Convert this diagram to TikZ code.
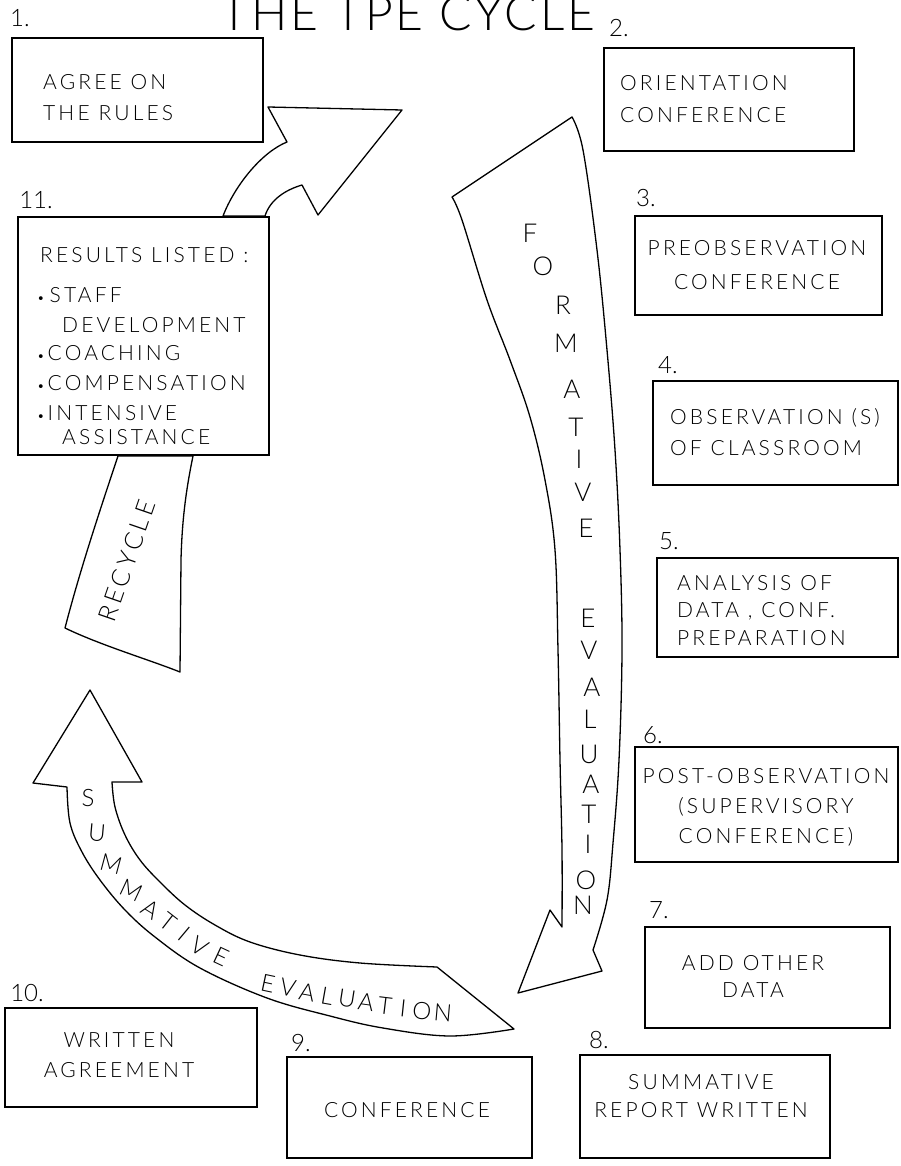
\documentclass[tikz,border=0pt]{standalone}
\usepackage{fontspec}
\setmainfont{Lato Light}
\newfontfamily\hand{Lato Light}[LetterSpace=15]
\newfontfamily\handn{Lato Light}
\newfontfamily\handt{Lato Light}[LetterSpace=6]
\begin{document}
\begin{tikzpicture}[x=1pt,y=-1pt,
  box/.style={draw, line width=2pt, inner sep=0pt},
  txt/.style={font=\hand\fontsize{21}{30}\selectfont, inner sep=0pt},
  num/.style={font=\handn\fontsize{24}{24}\selectfont, inner sep=0pt},
  bigl/.style={font=\handn\fontsize{26}{26}\selectfont, inner sep=0pt},
  suml/.style={font=\handn\fontsize{24}{24}\selectfont, inner sep=0pt},
  arr/.style={draw, line width=1.3pt, fill=white, line join=round}]
\fill[white] (0,0) rectangle (901,1166);
\useasboundingbox (0,0) rectangle (901,1166);

% title
\node[font=\handt\fontsize{48}{48}\selectfont, anchor=base, inner sep=0pt] (title) at (408,31) {THE TPE CYCLE};

% boxes
\node[box, minimum width=251pt, minimum height=104pt] (b1) at (137.5,90) {};
\node[box, minimum width=250pt, minimum height=103pt] (b2) at (729,99.5) {};
\node[box, minimum width=247pt, minimum height=99pt] (b3) at (758.5,265.5) {};
\node[box, minimum width=245pt, minimum height=104pt] (b4) at (775.5,433) {};
\node[box, minimum width=241pt, minimum height=99pt] (b5) at (777.5,607.5) {};
\node[box, minimum width=263pt, minimum height=115pt] (b6) at (766.5,804.5) {};
\node[box, minimum width=245pt, minimum height=101pt] (b7) at (767.5,977.5) {};
\node[box, minimum width=250pt, minimum height=103pt] (b8) at (705,1106.5) {};
\node[box, minimum width=245pt, minimum height=101pt] (b9) at (409.5,1107.5) {};
\node[box, minimum width=252pt, minimum height=99pt] (b10) at (131,1057.5) {};
\node[box, minimum width=251pt, minimum height=238pt] (b11) at (143.5,336) {};

% numbers
\node[num] (n1) at (20,18) {1.};
\node[num] (n2) at (619,28) {2.};
\node[num] (n3) at (646,198) {3.};
\node[num] (n4) at (668,365) {4.};
\node[num] (n5) at (669,541) {5.};
\node[num] (n6) at (653,735) {6.};
\node[num] (n7) at (659,910) {7.};
\node[num] (n8) at (599,1040) {8.};
\node[num] (n9) at (301,1043) {9.};
\node[num] (n10) at (27,993) {10.};
\node[num] (n11) at (36,200) {11.};

% box texts
\node[txt, align=left, anchor=west, font=\hand\fontsize{21}{31}\selectfont] (t1) at (43,97.5) {AGREE ON\\THE RULES};
\node[txt, align=left, anchor=west, font=\hand\fontsize{21}{32}\selectfont] (t2) at (620,99) {ORIENTATION\\CONFERENCE};
\node[txt, align=center, font=\hand\fontsize{21}{34}\selectfont] (t3) at (757,265) {PREOBSERVATION\\CONFERENCE};
\node[txt, align=left, anchor=west, font=\hand\fontsize{21}{31}\selectfont] (t4) at (670,432.5) {OBSERVATION (S)\\OF CLASSROOM};
\node[txt, align=left, anchor=west, font=\hand\fontsize{21}{27.5}\selectfont] (t5) at (677,610.5) {ANALYSIS OF\\DATA , CONF.\\PREPARATION};
\node[txt, align=center, font=\hand\fontsize{21}{30}\selectfont] (t6) at (766,807.5) {POST-OBSERVATION\\(SUPERVISORY\\CONFERENCE)};
\node[txt, align=center, font=\hand\fontsize{21}{27}\selectfont] (t7) at (753,976.5) {ADD OTHER\\DATA};
\node[txt, align=center, font=\hand\fontsize{21}{28}\selectfont] (t8) at (701,1096) {SUMMATIVE\\REPORT WRITTEN};
\node[txt] (t9) at (407,1110) {CONFERENCE};
\node[txt, align=center, font=\hand\fontsize{21}{30}\selectfont] (t10) at (119,1055) {WRITTEN\\AGREEMENT};

% box 11 list
\node[txt, anchor=west] (r0) at (40,255) {RESULTS LISTED :};
\node[txt, anchor=west] (r1) at (37,295) {{\fontsize{13}{13}\selectfont •}\hspace{5pt}STAFF};
\node[txt, anchor=west] (r2) at (62,325) {DEVELOPMENT};
\node[txt, anchor=west] (r3) at (37,353) {{\fontsize{13}{13}\selectfont •}\hspace{3pt}COACHING};
\node[txt, anchor=west] (r4) at (37,383) {{\fontsize{13}{13}\selectfont •}\hspace{3pt}COMPENSATION};
\node[txt, anchor=west] (r5) at (37,413) {{\fontsize{13}{13}\selectfont •}\hspace{3pt}INTENSIVE};
\node[txt, anchor=west] (r6) at (62,437) {ASSISTANCE};

% recycle arrow (top part, box 11 to box 1 / 2)
\draw[arr] ([xshift=79.5pt]b11.north) .. controls (235,185) and (262,152) .. (287,142)
  -- (268,107) -- (402,110) -- (318,215) -- (302,185)
  .. controls (285,190) and (270,200) .. ([xshift=121.5pt]b11.north) -- cycle;
% recycle arrow (bottom part)
\draw[arr] ([xshift=-25.5pt]b11.south) .. controls (100,510) and (80,570) .. (65,628)
  .. controls (100,645) and (150,660) .. (180,672)
  -- (181,560) .. controls (182,520) and (186,490) .. ([xshift=49.5pt]b11.south) -- cycle;
\node[font=\hand\fontsize{25}{25}\selectfont, inner sep=0pt, rotate=71] (rec) at (127,561) {RECYCLE};

% formative evaluation arrow
\draw[arr] (452,197) -- (572,117)
  -- plot[smooth, tension=0.6] coordinates {(572,117) (583,150) (597,250) (607,350) (615,450) (620,550) (622,650) (619,760) (613,843) (607,900) (593,950)}
  -- (602,971) -- (518,993) -- (550,910) -- (562,927)
  -- plot[smooth, tension=0.6] coordinates {(562,927) (562,850) (560,760) (558,650) (555,550) (545,480) (530,417) (510,360) (487,300) (462,220) (452,197)}
  -- cycle;
\foreach \l/\x/\y [count=\i] in {F/530/233, O/543/266, R/563/305, M/566/343, A/572/389, T/576/427, I/579/459, V/583/492, E/586/528,
  E/588/618, V/589/650, A/592/687, L/590/719, U/589/754, A/591/784, T/589/814, I/588/844, O/586/880, N/583/905}
  \node[bigl] (f\i) at (\x,\y) {\l};

% summative evaluation arrow
\draw[arr] (90,690) -- (142,782) -- (112,782)
  -- plot[smooth, tension=0.6] coordinates {(112,782) (115,807) (125,835) (140,860) (160,882) (185,905) (215,925) (250,942) (300,955) (360,963) (437,967)}
  -- (514,1029)
  -- plot[smooth, tension=0.6] coordinates {(514,1029) (450,1036) (383,1028) (330,1016) (267,998) (200,968) (155,937) (125,910) (100,880) (82,852) (70,823) (67,787)}
  -- (33,783) -- cycle;
\foreach \l/\x/\y/\r [count=\i] in {S/88/798/0, U/97/833/-5, M/111/864/-15, M/131/890/-25, A/151/909/-32, T/168/922/-38, I/184/934/-40, V/200/946/-32, E/221/957/-25,
  E/268/984/-12, V/288/988/-11, A/307/992/-10, L/327/996/-10, U/347/999/-9, A/366/1002/-8, T/385/1006/-7, I/403/1008/-6, O/422/1011/-6, N/443/1013/-5}
  \node[suml, rotate=\r] (s\i) at (\x,\y) {\l};
\end{tikzpicture}
\end{document}
